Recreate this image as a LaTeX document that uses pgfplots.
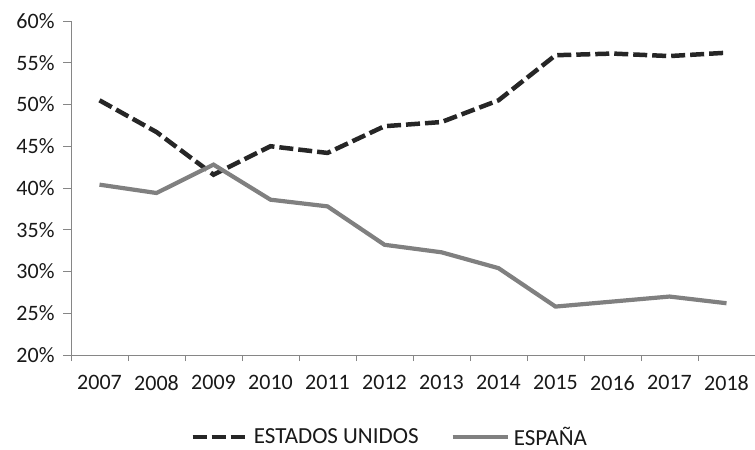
\documentclass[border=0pt]{standalone}
\usepackage{fontspec}
\setmainfont{Carlito}
\usepackage{pgfplots}
\pgfplotsset{compat=1.18}
\definecolor{axgray}{HTML}{868686}
\definecolor{usblack}{HTML}{262626}
\definecolor{esgray}{HTML}{808080}
\begin{document}
\begin{tikzpicture}
\begin{axis}[
  at={(71bp,95bp)}, anchor=south west,
  scale only axis,
  width=684bp, height=334bp,
  xmin=-0.5, xmax=11.5,
  ymin=20, ymax=60,
  axis x line*=bottom, axis y line*=left,
  axis line style={axgray, line width=0.8bp},
  axis line style={-},
  xtick={0,...,11},
  xticklabels={2007,2008,2009,2010,2011,2012,2013,2014,2015,2016,2017,2018},
  major x tick style={draw=none},
  minor xtick={-0.5,0.5,...,11.5},
  minor x tick style={axgray, line width=0.8bp},
  minor tick length=6bp,
  ytick={20,25,...,60},
  yticklabel={\pgfmathprintnumber{\tick}\%},
  y tick style={axgray, line width=0.8bp},
  major tick length=8bp,
  tick align=outside,
  tick label style={font=\fontsize{22bp}{26bp}\selectfont, text=black!90},
  /pgf/number format/assume math mode=true,
  xticklabel style={yshift=-9bp},
  yticklabel style={xshift=-5bp},
  legend columns=2,
  legend style={draw=none, at={(0.466,-0.246)}, anchor=center,
    inner sep=0pt, outer sep=0pt,
    font=\fontsize{23bp}{26bp}\selectfont, text=black!90,
    /tikz/every odd column/.append style={column sep=2bp},
    /tikz/every even column/.append style={column sep=30bp}},
  legend image code/.code={\draw[#1] (0bp,0bp) -- (55bp,0bp);},
]
\addplot[usblack, line width=4.5bp, dash pattern=on 14bp off 5bp] coordinates {
(0,50.5) (1,46.7) (2,41.6) (3,45.0) (4,44.2) (5,47.4) (6,47.9) (7,50.5) (8,55.9) (9,56.1) (10,55.8) (11,56.2)};
\addlegendentry{ESTADOS UNIDOS}
\addplot[esgray, line width=4.2bp] coordinates {
(0,40.4) (1,39.4) (2,42.8) (3,38.6) (4,37.8) (5,33.2) (6,32.3) (7,30.4) (8,25.8) (9,26.4) (10,27.0) (11,26.2)};
\addlegendentry{ESPAÑA}
\end{axis}
\pgfresetboundingbox
\path[use as bounding box] (0,0) rectangle (755bp,450bp);
\end{tikzpicture}
\end{document}
